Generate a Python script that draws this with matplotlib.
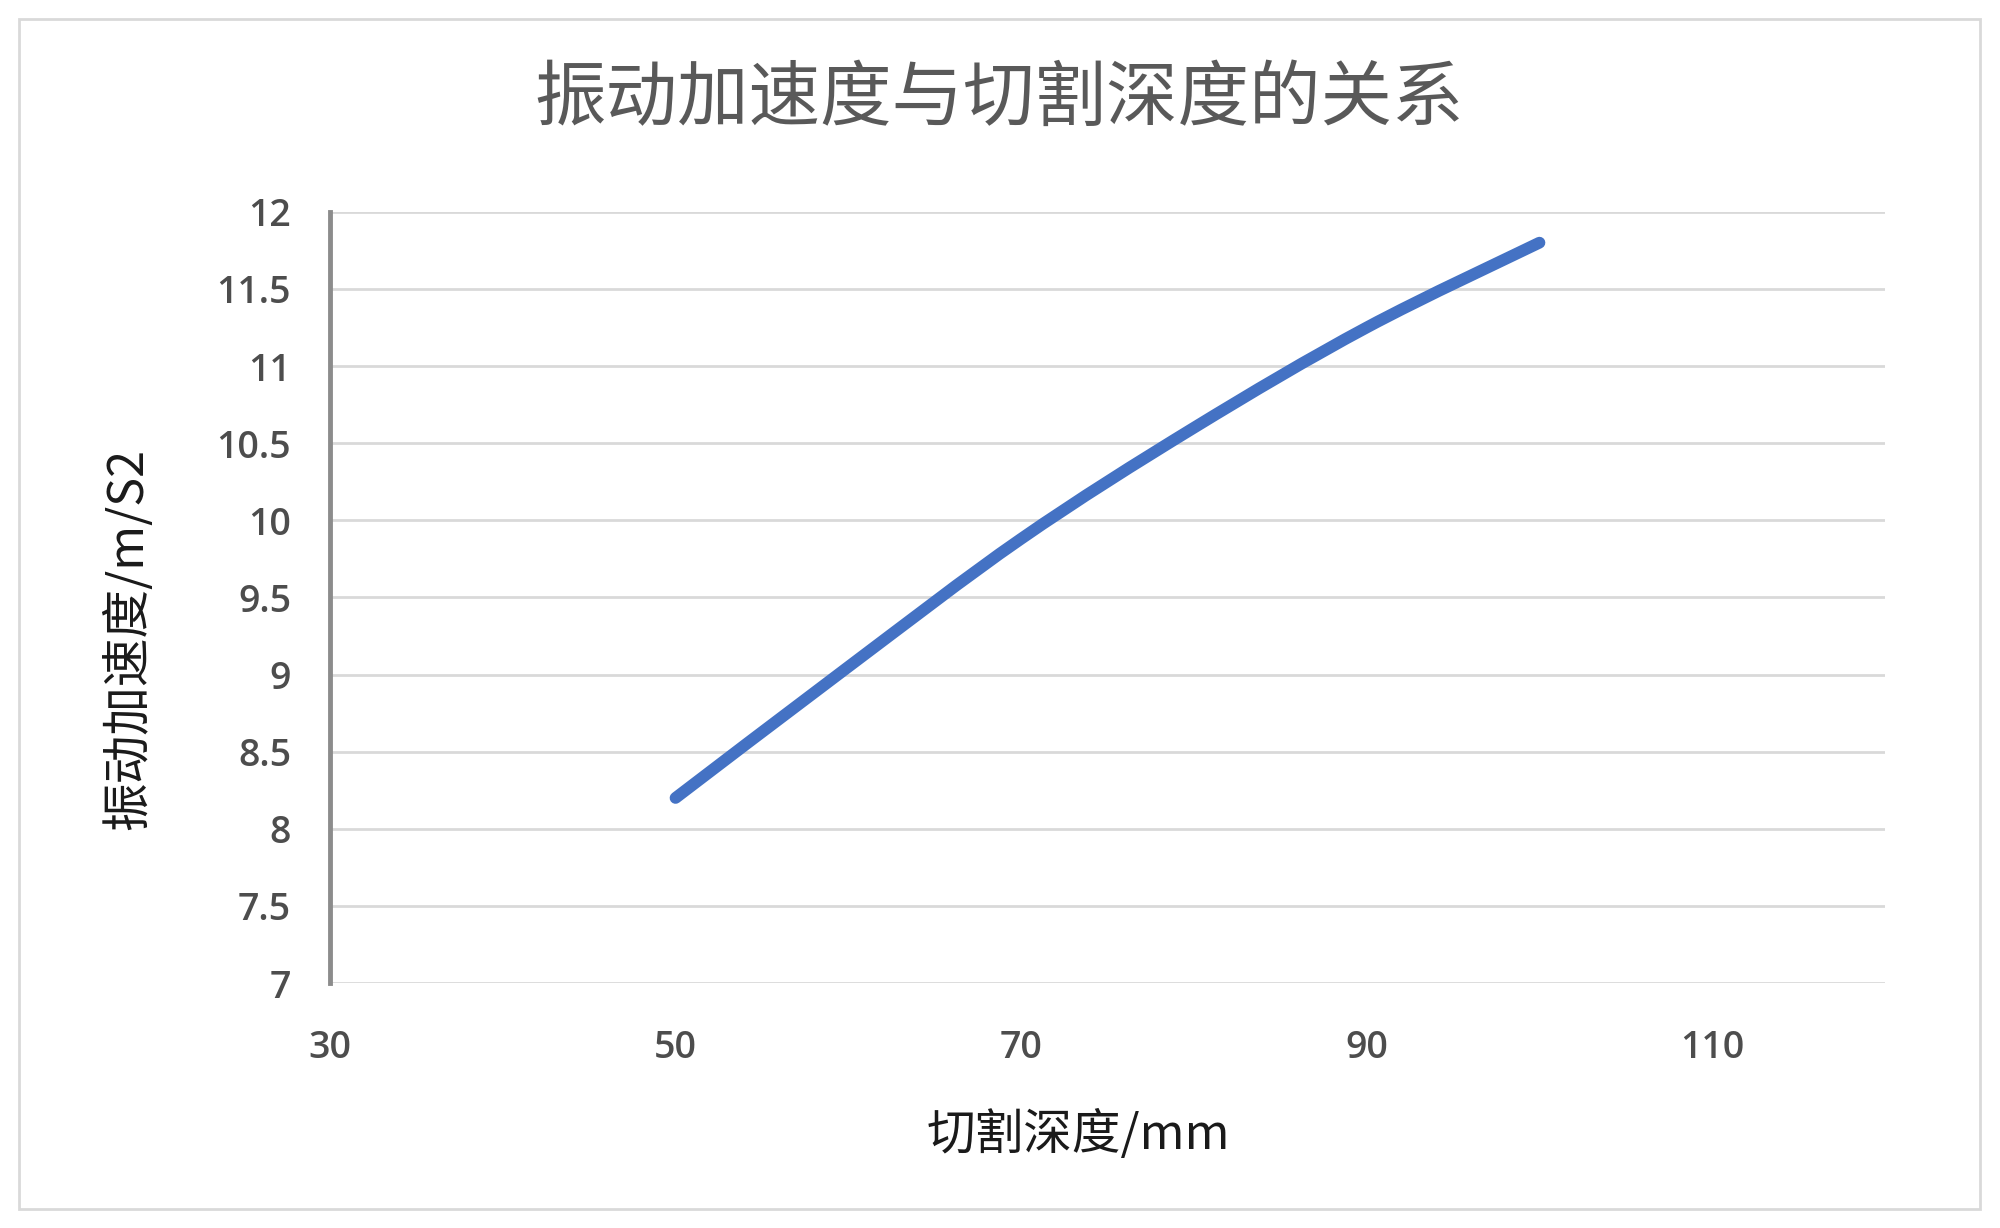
import matplotlib.pyplot as plt
from matplotlib.path import Path
from matplotlib.patches import PathPatch, Rectangle

plt.rcParams['font.family'] = ['Noto Sans CJK SC', 'DejaVu Sans']

depth = [50, 60, 70, 80, 90, 100]
accel = [8.2, 9.05, 9.88, 10.6, 11.25, 11.8]
x_ticks = [30, 50, 70, 90, 110]
y_ticks = [7, 7.5, 8, 8.5, 9, 9.5, 10, 10.5, 11, 11.5, 12]

title = "振动加速度与切割深度的关系"
x_label = "切割深度/mm"
y_label = "振动加速度/m/S2"

grey = "#595959"


def smooth_path(xs, ys, t=1 / 6):
    # Excel-style smoothed line: cubic Bezier through the points
    verts = [(xs[0], ys[0])]
    codes = [Path.MOVETO]
    n = len(xs)
    for i in range(n - 1):
        x0, y0 = (xs[i - 1], ys[i - 1]) if i > 0 else (xs[i], ys[i])
        x3, y3 = (xs[i + 2], ys[i + 2]) if i + 2 < n else (xs[i + 1], ys[i + 1])
        c1 = (xs[i] + (xs[i + 1] - x0) * t, ys[i] + (ys[i + 1] - y0) * t)
        c2 = (xs[i + 1] - (x3 - xs[i]) * t, ys[i + 1] - (y3 - ys[i]) * t)
        verts += [c1, c2, (xs[i + 1], ys[i + 1])]
        codes += [Path.CURVE4] * 3
    return Path(verts, codes)


fig = plt.figure(figsize=(20, 12.28), dpi=100)
ax = fig.add_axes([0.165, 0.1995, 0.7775, 0.628])

ax.add_patch(PathPatch(smooth_path(depth, accel), fill=False,
                       edgecolor="#4472C4", linewidth=8.5,
                       capstyle="round", joinstyle="round", zorder=3))

ax.set_xlim(30, 120)
ax.set_ylim(7, 12)
ax.set_xticks(x_ticks)
ax.set_yticks(y_ticks)
ax.set_yticklabels([f"{v:g}" for v in y_ticks])
ax.grid(axis="y", color="#d9d9d9", linewidth=2)
ax.set_axisbelow(True)
for side in ["top", "right", "bottom"]:
    ax.spines[side].set_visible(False)
ax.spines["left"].set_color("#8c8c8c")
ax.spines["left"].set_linewidth(3.5)
ax.spines["left"].set_zorder(4)
ax.tick_params(length=0, labelsize=27, labelcolor="#4d4d4d")
ax.tick_params(axis="x", pad=33)
ax.tick_params(axis="y", pad=28)
for lab in ax.get_xticklabels() + ax.get_yticklabels():
    lab.set_family(["Open Sans", "DejaVu Sans"])
    lab.set_fontweight("semibold")

fig.text(0.4995, 0.919, title, ha="center", va="center",
         fontsize=51.5, color=grey)
fig.text(0.539, 0.076, x_label, ha="center", va="center",
         fontsize=35, color="#1a1a1a")
fig.text(0.064, 0.48, y_label, ha="center", va="center",
         rotation=90, fontsize=35, color="#1a1a1a")

fig.patches.append(Rectangle((19 / 2000, 19 / 1228), 1961 / 2000, 1190 / 1228,
                             transform=fig.transFigure, fill=False,
                             edgecolor="#d9d9d9", linewidth=2))

fig.savefig("out.png", dpi=100, facecolor="white")
